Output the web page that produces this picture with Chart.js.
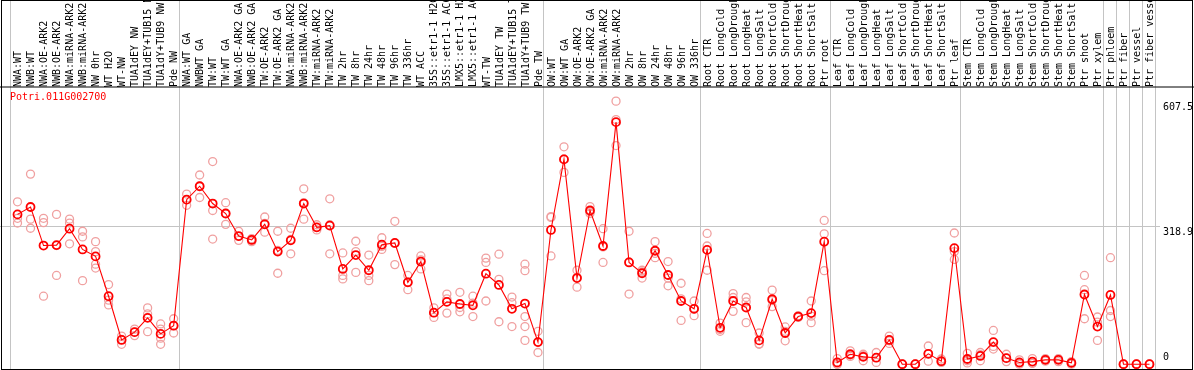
<!DOCTYPE html>
<html>
<head>
<meta charset="utf-8">
<script src="https://cdn.jsdelivr.net/npm/chart.js@4/dist/chart.umd.min.js"></script>
<style>
  html, body { margin: 0; padding: 0; background: #fff; }
  #wrap { width: 1194px; height: 370px; }
</style>
</head>
<body>
<div id="wrap"><canvas id="exprChart" width="1194" height="370"></canvas></div>
<script>
const geneName = "Potri.011G002700";

const sampleLabels = [
  "NWA:WT", "NWB:WT", "NWA:OE-ARK2", "NWB:OE-ARK2", "NWA:miRNA-ARK2", "NWB:miRNA-ARK2",
  "NW 0hr", "WT H2O", "WT-NW", "TUA1dEY NW", "TUA1dEY+TUB15 NW", "TUA1dY+TUB9 NW", "Pde NW",
  "NWA:WT GA", "NWBWT GA", "TW:WT", "TW:WT GA", "NWA:OE-ARK2 GA", "NWB:OE-ARK2 GA",
  "TW:OE-ARK2", "TW:OE-ARK2 GA", "NWA:miRNA-ARK2", "NWB:miRNA-ARK2", "TW:miRNA-ARK2",
  "TW:miRNA-ARK2", "TW 2hr", "TW 8hr", "TW 24hr", "TW 48hr", "TW 96hr", "TW 336hr", "WT ACC",
  "35S::etr1-1 H2O", "35S::etr1-1 ACC", "LMX5::etr1-1 H2O", "LMX5::etr1-1 ACC", "WT-TW",
  "TUA1dEY TW", "TUA1dEY+TUB15 TW", "TUA1dY+TUB9 TW", "Pde TW",
  "OW:WT", "OW:WT GA", "OW:OE-ARK2", "OW:OE-ARK2 GA", "OW:miRNA-ARK2", "OW:miRNA-ARK2",
  "OW 2hr", "OW 8hr", "OW 24hr", "OW 48hr", "OW 96hr", "OW 336hr",
  "Root CTR", "Root LongCold", "Root LongDrought", "Root LongHeat", "Root LongSalt",
  "Root ShortCold", "Root ShortDrought", "Root ShortHeat", "Root ShortSalt", "Ptr root",
  "Leaf CTR", "Leaf LongCold", "Leaf LongDrought", "Leaf LongHeat", "Leaf LongSalt",
  "Leaf ShortCold", "Leaf ShortDrought", "Leaf ShortHeat", "Leaf ShortSalt", "Ptr leaf",
  "Stem CTR", "Stem LongCold", "Stem LongDrought", "Stem LongHeat", "Stem LongSalt",
  "Stem ShortCold", "Stem ShortDrought", "Stem ShortHeat", "Stem ShortSalt", "Ptr shoot",
  "Ptr xylem", "Ptr phloem", "Ptr fiber", "Ptr vessel", "Ptr fiber vessel"
];

// index where each sample group starts (last entry = end)
const groupBreaks = [0, 13, 41, 53, 63, 73, 84, 85, 86, 87, 88];

const meanValues = [
  346, 363, 274, 275, 313, 265, 249, 157, 56, 74, 107, 70, 89,
  380, 411, 371, 348, 296, 287, 323, 260, 286, 371, 316, 320, 220, 252, 217, 276, 280,
  189, 237, 119, 144, 139, 136, 209, 183, 128, 140, 51,
  310, 473, 199, 355, 273, 559, 235, 210, 262, 206, 146, 128,
  264, 84, 146, 131, 55, 150, 72, 110, 118, 283,
  4, 23, 17, 15, 56, 0, 0, 24, 7, 268,
  12, 19, 51, 14, 4, 6, 10, 10, 3, 161,
  87, 160, 0, 0, 0
];

const rep1 = [
  375, 439, 337, 346, 335, 307, 283, 184, 65, 81, 130, 93, 105,
  393, 437, 468, 373, 307, 290, 340, 307, 314, 405, 322, 382, 257, 284, 252, 292, 330,
  205, 250, 130, 162, 166, 157, 245, 254, 155, 231, 76,
  341, 502, 217, 364, 313, 607.5, 307, 217, 283, 237, 187, 146,
  302, 95, 163, 154, 72, 171, 86, 112, 146, 332,
  13, 31, 23, 27, 65, 0, 0, 42, 12, 303,
  25, 27, 78, 23, 10, 13, 13, 13, 6, 205,
  109, 246, 0, 0, 0
];

const rep2 = [
  337, 335, 327, 274, 326, 294, 260, 148, 57, 74, 116, 81, 89,
  380, 411, 355, 348, 295, 287, 325, 263, 288, 373, 316, 322, 205, 260, 205, 272, 279,
  190, 241, 119, 151, 131, 141, 235, 196, 142, 216, 51,
  339, 474, 200, 352, 271, 565, 236, 213, 256, 199, 151, 127,
  273, 80, 154, 144, 47, 147, 76, 110, 111, 301,
  0, 21, 20, 15, 54, 0, 0, 24, 5, 260,
  8, 22, 41, 14, 2, 2, 10, 11, 2, 172,
  97, 124, 0, 0, 0
];

const rep3 = [
  326, 314, 157, 205, 278, 193, 231, 137, 46, 66, 75, 60, 72,
  367, 385, 289, 323, 286, 283, 305, 210, 255, 335, 310, 255, 197, 212, 193, 265, 230,
  172, 220, 108, 118, 121, 110, 146, 98, 87, 110, 27,
  250, 443, 178, 348, 235, 505, 162, 199, 246, 181, 101, 112,
  217, 76, 122, 96, 46, 133, 54, 108, 96, 216,
  0, 18, 8, 4, 48, 0, 0, 7, 4, 242,
  3, 8, 35, 6, 0, 2, 7, 6, 0, 105,
  55, 110, 0, 0, 0
];

const rep4 = sampleLabels.map(() => null);
rep4[6] = 222; rep4[11] = 46; rep4[39] = 87;
const rep5 = sampleLabels.map(() => null);
rep5[39] = 55;

const yTickValues = [0, 318.9, 607.5];
const yMax = 637.875;

const monoFont = { family: "'DejaVu Sans Mono', 'Liberation Mono', monospace", size: 10 };
const gridGray = "#c4c4c4";
const repColor = "#f0a0a0";

const framePlugin = {
  id: "frame",
  beforeDatasetsDraw(chart) {
    const { ctx, chartArea, scales } = chart;
    const x = scales.x, y = scales.y;
    ctx.save();
    ctx.strokeStyle = gridGray;
    ctx.lineWidth = 1;
    // vertical group separators, full height
    groupBreaks.forEach((k) => {
      const px = Math.round(x.getPixelForValue(k - 0.5)) - 0.5;
      ctx.beginPath();
      ctx.moveTo(px, 0);
      ctx.lineTo(px, chart.height);
      ctx.stroke();
    });
    // middle horizontal line
    const py = Math.round(y.getPixelForValue(yTickValues[1])) + 0.5;
    ctx.beginPath();
    ctx.moveTo(0, py);
    ctx.lineTo(chartArea.right + 4, py);
    ctx.stroke();
    ctx.restore();
  },
  afterDraw(chart) {
    const { ctx, chartArea, scales } = chart;
    const y = scales.y;
    ctx.save();
    ctx.strokeStyle = "#000";
    ctx.lineWidth = 1;
    ctx.strokeRect(1.5, 0.5, chart.width - 3, chart.height - 1);
    ctx.beginPath();
    ctx.moveTo(0, chartArea.top - 1);
    ctx.lineTo(chart.width, chartArea.top - 1);
    ctx.stroke();

    ctx.font = "10px " + monoFont.family;
    ctx.fillStyle = "#000";
    ctx.textAlign = "left";
    yTickValues.forEach((v) => {
      const py = y.getPixelForValue(v);
      if (v === 0) {
        ctx.textBaseline = "bottom";
        ctx.fillText(String(v), chartArea.right + 7, py - 2);
      } else {
        ctx.textBaseline = "top";
        ctx.fillText(String(v), chartArea.right + 7, py + 1);
      }
    });

    ctx.fillStyle = "#ff0000";
    ctx.textBaseline = "middle";
    ctx.fillText(geneName, chartArea.left - 1, chartArea.top + 9);
    ctx.restore();
  }
};

function repDataset(values) {
  return {
    data: values,
    showLine: false,
    borderColor: repColor,
    pointBorderColor: repColor,
    pointBackgroundColor: "rgba(0,0,0,0)",
    pointRadius: 4,
    pointBorderWidth: 1.3,
    clip: false
  };
}

new Chart(document.getElementById("exprChart"), {
  type: "line",
  data: {
    labels: sampleLabels,
    datasets: [
      {
        label: geneName,
        data: meanValues,
        borderColor: "#ff0000",
        borderWidth: 1.1,
        pointBorderColor: "#ff0000",
        pointBackgroundColor: "rgba(0,0,0,0)",
        pointRadius: 4,
        pointBorderWidth: 1.8,
        tension: 0,
        clip: false
      },
      repDataset(rep1),
      repDataset(rep2),
      repDataset(rep3),
      repDataset(rep4),
      repDataset(rep5)
    ]
  },
  options: {
    responsive: false,
    animation: false,
    devicePixelRatio: 1,
    layout: { padding: { left: 11, right: 38, top: 0, bottom: 1.5 } },
    plugins: {
      legend: { display: false },
      tooltip: { enabled: false }
    },
    scales: {
      x: {
        type: "category",
        position: "top",
        offset: true,
        grid: { display: false, drawTicks: false },
        border: { display: false },
        ticks: {
          autoSkip: false,
          minRotation: 90,
          maxRotation: 90,
          padding: 1,
          labelOffset: 13,
          color: "#000",
          font: monoFont
        },
        afterFit(scale) {
          scale.height = 88;
        }
      },
      y: {
        display: false,
        min: 0,
        max: yMax
      }
    }
  },
  plugins: [framePlugin]
});
</script>
</body>
</html>
